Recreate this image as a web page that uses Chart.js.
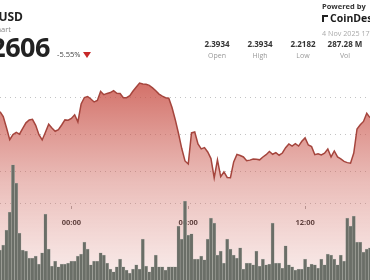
<!DOCTYPE html>
<html>
<head>
<meta charset="utf-8">
<script src="https://cdn.jsdelivr.net/npm/chart.js@4/dist/chart.umd.min.js"></script>
<style>
    html, body { margin: 0; padding: 0; background: #fff; }
    #wrap { position: relative; width: 370px; height: 280px; overflow: hidden; font-family: "Open Sans", sans-serif; }
    #wrap canvas { position: absolute; left: 0; top: 0; }
    .txt { position: absolute; white-space: nowrap; line-height: 1; z-index: 2; }
    .stat { position: absolute; width: 60px; text-align: center; line-height: 1; z-index: 2; }
    .val { font-size: 8px; font-weight: 700; color: #333; top: 40px; }
    .lbl { font-size: 7px; color: #999; top: 52px; }
</style>
</head>
<body>
<div id="wrap">
    <div class="txt" style="right:347px; top:10.5px; font-size:12px; font-weight:700; color:#222;">XRP / USD</div>
    <div class="txt" style="right:359px; top:25.5px; font-size:7.5px; color:#888;">Chart</div>
    <div class="txt" style="right:320px; top:33px; font-size:27px; font-weight:700; color:#222; letter-spacing:-0.5px;">2.2606</div>
    <div class="txt" style="left:57px; top:50.5px; font-size:7.5px; color:#444;">-5.55%</div>
    <div style="position:absolute; left:83px; top:52px; width:0; height:0; border-left:4px solid transparent; border-right:4px solid transparent; border-top:6px solid #c62828; z-index:2;"></div>

    <div class="txt" style="left:322px; top:2.5px; font-size:7.5px; font-weight:700; color:#333;">Powered by</div>
    <div style="position:absolute; left:322px; top:15px; width:4px; height:5px; border-left:2px solid #222; border-top:2px solid #222; z-index:2;"></div>
    <div class="txt" style="left:330px; top:13px; font-size:10.5px; font-weight:700; color:#1a1a1a;">CoinDesk</div>
    <div class="txt" style="left:322px; top:29.5px; font-size:7.2px; color:#aaa;">4 Nov 2025 17:30</div>

    <div class="stat val" style="left:187px;">2.3934</div>
    <div class="stat lbl" style="left:187px;">Open</div>
    <div class="stat val" style="left:230px;">2.3934</div>
    <div class="stat lbl" style="left:230px;">High</div>
    <div class="stat val" style="left:273px;">2.2182</div>
    <div class="stat lbl" style="left:273px;">Low</div>
    <div class="stat val" style="left:315px;">287.28 M</div>
    <div class="stat lbl" style="left:315px;">Vol</div>

    <canvas id="priceChart" width="370" height="280"></canvas>
</div>
<script>
// 10 分钟一根，从 20:20 开始
const startHour = 20;
const startMinute = 20;
const stepMinutes = 10;

// 价格 (USD)
const prices = [
    2.3652, 2.3600, 2.3478, 2.3349, 2.3405, 2.3427, 2.3408, 2.3472, 2.3531, 2.3562,
    2.3569, 2.3504, 2.3403, 2.3346, 2.3430, 2.3516, 2.3475, 2.3440, 2.3456, 2.3508,
    2.3563, 2.3559, 2.3578, 2.3618, 2.3541, 2.3735, 2.3805, 2.3816, 2.3789, 2.3757,
    2.3773, 2.3870, 2.3835, 2.3849, 2.3858, 2.3880, 2.3851, 2.3849, 2.3803, 2.3803,
    2.3825, 2.3875, 2.3919, 2.3961, 2.3951, 2.3947, 2.3936, 2.3909, 2.3878, 2.3842,
    2.3819, 2.3802, 2.3797, 2.3697, 2.3565, 2.3416, 2.3253, 2.3119, 2.3086, 2.3422,
    2.3432, 2.3303, 2.3249, 2.3263, 2.3216, 2.3145, 2.2935, 2.3130, 2.2949, 2.3000,
    2.2941, 2.2938, 2.3108, 2.3190, 2.3178, 2.3162, 2.3121, 2.3128, 2.3139, 2.3137,
    2.3131, 2.3162, 2.3187, 2.3222, 2.3191, 2.3209, 2.3181, 2.3205, 2.3262, 2.3303,
    2.3279, 2.3306, 2.3280, 2.3331, 2.3368, 2.3292, 2.3274, 2.3187, 2.3197, 2.3185,
    2.3203, 2.3249, 2.3162, 2.3227, 2.3162, 2.3141, 2.3114, 2.3101, 2.3095, 2.3205,
    2.3465, 2.3510, 2.3546, 2.3634, 2.3587
];

// 成交量 (百万)
const volumes = [
    1.97, 2.30, 3.29, 4.47, 7.57, 6.38, 3.09, 1.97, 1.91, 1.45,
    1.45, 1.58, 1.05, 1.78, 4.34, 2.04, 0.92, 1.25, 0.86, 1.05,
    1.05, 1.12, 1.25, 1.25, 1.58, 1.71, 2.50, 2.04, 0.99, 1.25,
    1.25, 1.78, 1.64, 1.12, 0.72, 0.53, 0.86, 1.38, 0.86, 0.66,
    0.46, 0.72, 0.99, 0.72, 2.70, 0.92, 0.53, 0.86, 1.64, 0.86,
    0.86, 0.66, 0.86, 0.86, 0.86, 3.55, 2.70, 5.20, 2.96, 3.03,
    1.38, 1.38, 1.58, 1.32, 2.70, 4.08, 3.75, 1.64, 1.91, 1.12,
    2.70, 2.04, 1.64, 1.45, 2.11, 0.72, 1.12, 1.12, 0.99, 1.91,
    0.92, 1.38, 0.99, 1.05, 3.75, 1.12, 1.12, 0.79, 2.24, 0.99,
    0.86, 0.66, 0.72, 0.72, 1.38, 0.86, 1.05, 0.99, 0.79, 1.38,
    0.99, 1.71, 1.64, 1.38, 0.99, 1.64, 1.25, 4.08, 3.55, 4.21,
    2.50, 2.50, 1.84, 2.04, 2.11
];

const tickLabels = ['00:00', '06:00', '12:00'];
const priceGrid = [2.30, 2.34, 2.38];
const volumeGrid = [5];

// 时间轴标签
const timeLabels = prices.map((_, i) => {
    const t = (startHour * 60 + startMinute + i * stepMinutes) % 1440;
    return String(Math.floor(t / 60)).padStart(2, '0') + ':' + String(t % 60).padStart(2, '0');
});

Chart.defaults.font.family = '"Open Sans", sans-serif';

const dotted = {
    color: 'rgba(175,175,175,0.75)',
    lineWidth: 1,
    drawTicks: false
};

// 隐藏的 y 轴不占宽度
const noWidth = scale => { scale.width = 0; };

const data = {
    labels: timeLabels,
    datasets: [
        {
            type: 'line',
            data: prices,
            yAxisID: 'y',
            borderColor: '#a5453d',
            borderWidth: 1.5,
            pointRadius: 0,
            tension: 0,
            fill: 'start',
            order: 2,
            backgroundColor: function (context) {
                const area = context.chart.chartArea;
                if (!area) return 'rgba(200,80,70,0.4)';
                const g = context.chart.ctx.createLinearGradient(0, area.top + 80, 0, area.bottom);
                g.addColorStop(0, 'rgba(200,78,68,0.82)');
                g.addColorStop(0.5, 'rgba(205,95,85,0.42)');
                g.addColorStop(1, 'rgba(210,110,100,0.12)');
                return g;
            }
        },
        {
            type: 'bar',
            data: volumes,
            yAxisID: 'y1',
            backgroundColor: '#6a6e67',
            borderColor: 'rgba(175,178,170,0.8)',
            borderWidth: { left: 0.5, right: 0.5, top: 0.5, bottom: 0 },
            borderSkipped: false,
            barPercentage: 1,
            categoryPercentage: 1,
            order: 1
        }
    ]
};

const config = {
    type: 'bar',
    data: data,
    options: {
        responsive: false,
        animation: false,
        layout: { padding: 0 },
        plugins: {
            legend: { display: false },
            tooltip: { enabled: false }
        },
        scales: {
            x: {
                type: 'category',
                offset: false,
                position: { y: 2.2633 },
                border: { display: false },
                grid: {
                    offset: false,
                    drawOnChartArea: false,
                    drawTicks: true,
                    tickLength: 3,
                    color: ctx => tickLabels.includes(timeLabels[ctx.index]) ? '#aaa' : 'rgba(0,0,0,0)'
                },
                ticks: {
                    autoSkip: false,
                    maxRotation: 0,
                    minRotation: 0,
                    padding: 9,
                    color: '#333',
                    font: { size: 7.5, weight: 'bold' },
                    callback: function (value, index) {
                        return tickLabels.includes(timeLabels[index]) ? timeLabels[index] : '';
                    }
                },
                afterFit: scale => { scale.paddingLeft = 0; scale.paddingRight = 0; }
            },
            y: {
                position: 'right',
                min: 2.1832,
                max: 2.4859,
                ticks: { display: false },
                grid: dotted,
                border: { display: false, dash: [1, 4] },
                afterBuildTicks: scale => { scale.ticks = priceGrid.map(v => ({ value: v })); },
                afterFit: noWidth
            },
            y1: {
                position: 'left',
                min: 0,
                max: 18.42,
                ticks: { display: false },
                grid: dotted,
                border: { display: false, dash: [1, 4] },
                afterBuildTicks: scale => { scale.ticks = volumeGrid.map(v => ({ value: v })); },
                afterFit: noWidth
            }
        }
    }
};

new Chart(document.getElementById('priceChart'), config);
</script>
</body>
</html>
